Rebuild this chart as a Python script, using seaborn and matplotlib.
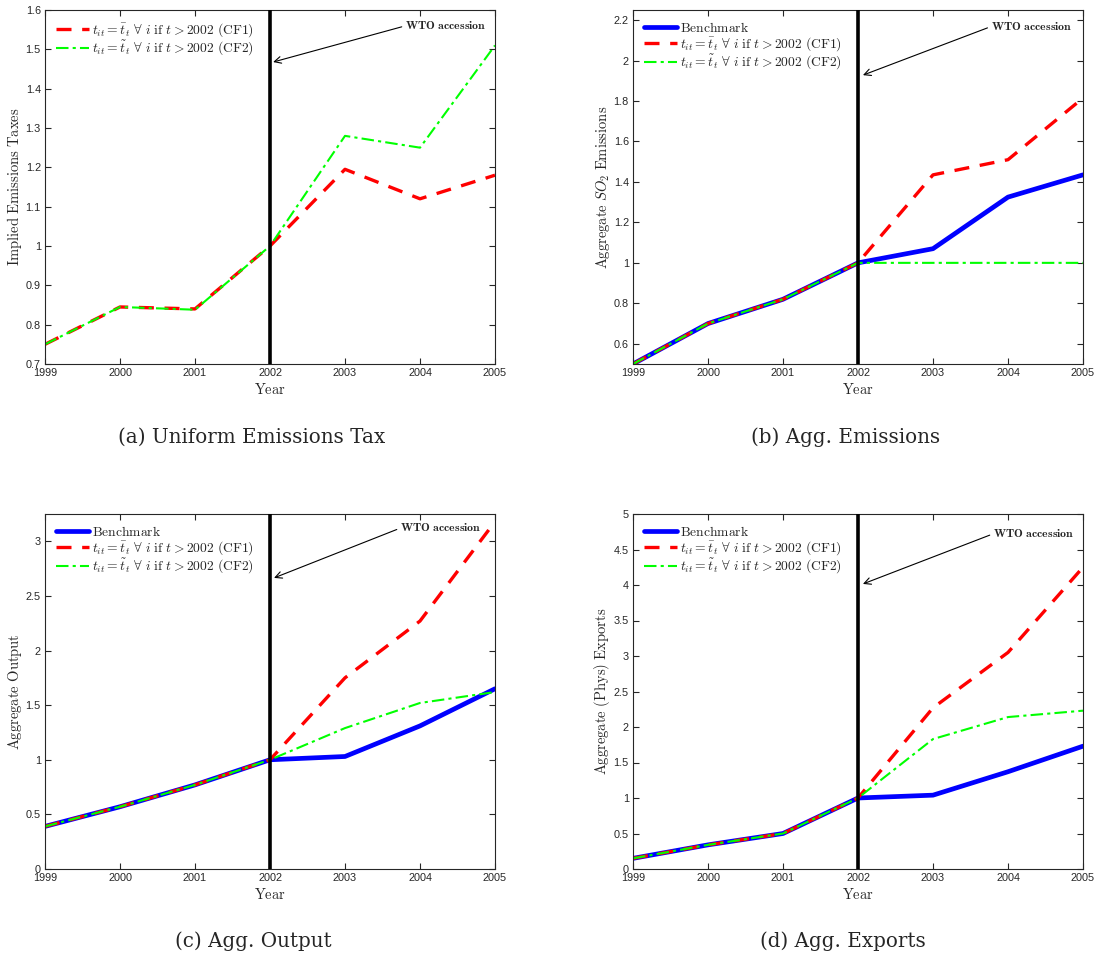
import numpy as np
import pandas as pd
import matplotlib
matplotlib.use("Agg")
import matplotlib.pyplot as plt
import seaborn as sns

years = [1999, 2000, 2001, 2002, 2003, 2004, 2005]

tax_cf1 = [0.75, 0.845, 0.84, 1.0, 1.195, 1.12, 1.18]
tax_cf2 = [0.75, 0.845, 0.838, 1.0, 1.28, 1.25, 1.51]

emis_bench = [0.50, 0.70, 0.82, 1.0, 1.07, 1.325, 1.435]
emis_cf1 = [0.50, 0.70, 0.82, 1.0, 1.435, 1.51, 1.815]
emis_cf2 = [0.50, 0.70, 0.82, 1.0, 1.0, 1.0, 1.0]

out_bench = [0.39, 0.57, 0.77, 1.0, 1.03, 1.31, 1.65]
out_cf1 = [0.39, 0.57, 0.77, 1.0, 1.75, 2.27, 3.18]
out_cf2 = [0.39, 0.57, 0.77, 1.0, 1.29, 1.52, 1.62]

exp_bench = [0.15, 0.34, 0.50, 1.0, 1.04, 1.37, 1.73]
exp_cf1 = [0.15, 0.34, 0.50, 1.0, 2.27, 3.05, 4.25]
exp_cf2 = [0.15, 0.34, 0.50, 1.0, 1.83, 2.14, 2.23]

lab_bench = r"$\mathrm{Benchmark}$"
lab_cf1 = r"$t_{it} = \bar{t}_t\ \forall\ i\ \mathrm{if}\ t > 2002\ \mathrm{(CF1)}$"
lab_cf2 = r"$t_{it} = \tilde{t}_t\ \forall\ i\ \mathrm{if}\ t > 2002\ \mathrm{(CF2)}$"

sns.set_theme(style="ticks")
plt.rcParams["font.family"] = ["Liberation Sans", "DejaVu Sans"]
plt.rcParams["mathtext.fontset"] = "cm"

W, H = 1094, 958
fig = plt.figure(figsize=(W / 100, H / 100), dpi=100)

def frac_axes(l, t, r, b):
    return fig.add_axes([l / W, 1 - b / H, (r - l) / W, (b - t) / H])

panels = [
    dict(box=(45, 10, 495, 364), series=[(None, None), (tax_cf1, lab_cf1), (tax_cf2, lab_cf2)],
         ylim=(0.7, 1.6), yticks=[0.7, 0.8, 0.9, 1.0, 1.1, 1.2, 1.3, 1.4, 1.5, 1.6],
         ylabel=r"$\mathrm{Implied\ Emissions\ Taxes}$",
         txt=(0.80, 0.955), tip=(0.507, 0.853),
         caption="(a) Uniform Emissions Tax", cap=(252, 437)),
    dict(box=(633, 10, 1083, 364), series=[(emis_bench, lab_bench), (emis_cf1, lab_cf1), (emis_cf2, lab_cf2)],
         ylim=(0.5, 2.25), yticks=[0.6, 0.8, 1.0, 1.2, 1.4, 1.6, 1.8, 2.0, 2.2],
         ylabel=r"$\mathrm{Aggregate}\ SO_2\ \mathrm{Emissions}$",
         txt=(0.795, 0.953), tip=(0.511, 0.816),
         caption="(b) Agg. Emissions", cap=(846, 437)),
    dict(box=(45, 514, 495, 869), series=[(out_bench, lab_bench), (out_cf1, lab_cf1), (out_cf2, lab_cf2)],
         ylim=(0, 3.25), yticks=[0, 0.5, 1.0, 1.5, 2.0, 2.5, 3.0],
         ylabel=r"$\mathrm{Aggregate\ Output}$",
         txt=(0.789, 0.96), tip=(0.509, 0.82),
         caption="(c) Agg. Output", cap=(253, 941)),
    dict(box=(633, 514, 1083, 869), series=[(exp_bench, lab_bench), (exp_cf1, lab_cf1), (exp_cf2, lab_cf2)],
         ylim=(0, 5), yticks=[0, 0.5, 1.0, 1.5, 2.0, 2.5, 3.0, 3.5, 4.0, 4.5, 5.0],
         ylabel=r"$\mathrm{Aggregate\ (Phys)\ Exports}$",
         txt=(0.80, 0.944), tip=(0.511, 0.803),
         caption="(d) Agg. Exports", cap=(843, 941)),
]

styles = [
    dict(color="#0000ff", lw=3.4, linestyle="-"),
    dict(color="#ff0000", lw=2.4, linestyle=(0, (4.5, 3.2))),
    dict(color="#00ff00", lw=1.5, linestyle=(0, (6, 2, 1.5, 2))),
]

for p in panels:
    ax = frac_axes(*p["box"])
    for (vals, lab), st in zip(p["series"], styles):
        if vals is None:
            continue
        df = pd.DataFrame({"Year": years, "Value": vals})
        sns.lineplot(data=df, x="Year", y="Value", ax=ax, label=lab, **st)
    ax.axvline(2002, color="black", lw=2.6, zorder=5)
    ax.set_xlim(1999, 2005)
    ax.set_ylim(*p["ylim"])
    ax.set_xticks(years)
    ax.set_xticklabels([str(y) for y in years])
    ax.set_yticks(p["yticks"])
    ax.set_yticklabels(["%g" % v for v in p["yticks"]])
    ax.tick_params(direction="in", length=4, width=0.8, top=True, right=True,
                   labelsize=7.8, colors="#262626", pad=3)
    for s in ax.spines.values():
        s.set_color("#262626")
        s.set_linewidth(0.8)
    ax.set_xlabel(r"$\mathrm{Year}$", fontsize=10.5, labelpad=3, color="#262626")
    ax.set_ylabel(p["ylabel"], fontsize=10.5, labelpad=1, color="#262626")
    leg = ax.legend(loc="upper left", frameon=False, fontsize=9.8, handlelength=2.4,
                    handletextpad=0.25, labelspacing=0.0, borderaxespad=0.5,
                    borderpad=0.3)
    ax.annotate(r"$\mathbf{WTO\ accession}$", xy=p["tip"], xycoords="axes fraction",
                xytext=p["txt"], textcoords="axes fraction", ha="left", va="center",
                fontsize=8.5,
                arrowprops=dict(arrowstyle="->", color="black", lw=0.8,
                                relpos=(0, 0.5), shrinkA=0, shrinkB=0,
                                mutation_scale=12))
    fig.text(p["cap"][0] / W, 1 - p["cap"][1] / H, p["caption"], ha="center", va="center",
             fontsize=14.3, family="DejaVu Serif")

fig.savefig("out.png", dpi=100)
